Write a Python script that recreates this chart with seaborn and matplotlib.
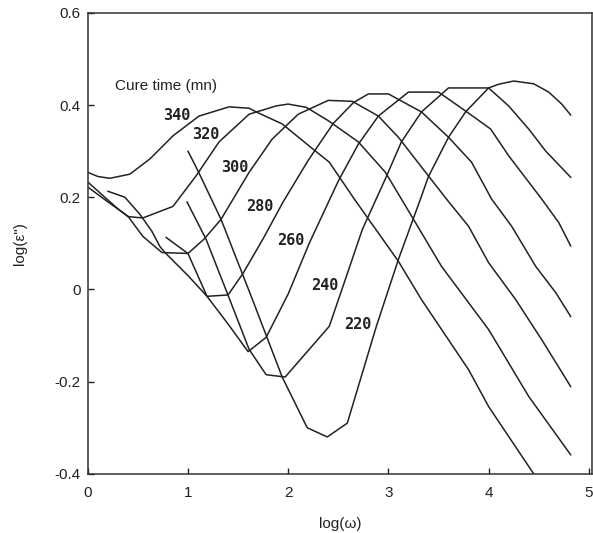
import pandas as pd
import matplotlib
matplotlib.use("Agg")
import matplotlib.pyplot as plt
import seaborn as sns

"""
Dielectric loss vs frequency for several cure times
values read off the scanned figure
"""

cure_times = ['340', '320', '300', '280', '260', '240', '220']

x_340 = [0, 0.1, 0.22, 0.42, 0.62, 0.85, 1.11, 1.41, 1.61, 1.68, 1.94, 2.21, 2.41, 2.66, 3.1, 3.33, 3.8, 4.0, 4.45]
y_340 = [0.254, 0.245, 0.241, 0.25, 0.283, 0.333, 0.376, 0.396, 0.393, 0.385, 0.359, 0.311, 0.276, 0.196, 0.061,
         -0.022, -0.174, -0.254, -0.40]

x_320 = [0, 0.17, 0.3, 0.4, 0.55, 0.85, 1.08, 1.31, 1.61, 1.88, 2.0, 2.18, 2.4, 2.7, 2.97, 3.13, 3.53, 4.0, 4.4, 4.82]
y_320 = [0.233, 0.20, 0.175, 0.158, 0.155, 0.18, 0.246, 0.32, 0.38, 0.398, 0.402, 0.395, 0.366, 0.32, 0.254, 0.196,
         0.05, -0.087, -0.232, -0.359]

x_300 = [0, 0.2, 0.4, 0.55, 0.74, 1.0, 1.16, 1.33, 1.61, 1.84, 2.1, 2.4, 2.64, 2.9, 3.1, 3.35, 3.58, 3.8, 4.0,
         4.27, 4.53, 4.82]
y_300 = [0.222, 0.19, 0.159, 0.115, 0.08, 0.078, 0.109, 0.152, 0.254, 0.326, 0.38, 0.41, 0.408, 0.376, 0.33, 0.26,
         0.196, 0.137, 0.058, -0.022, -0.109, -0.211]

x_280 = [0.2, 0.37, 0.52, 0.64, 0.72, 0.77, 1.0, 1.19, 1.4, 1.55, 1.75, 1.95, 2.2, 2.45, 2.65, 2.8, 3.0, 3.33, 3.6,
         3.83, 4.03, 4.23, 4.47, 4.67, 4.82]
y_280 = [0.213, 0.2, 0.163, 0.126, 0.093, 0.08, 0.03, -0.015, -0.012, 0.035, 0.11, 0.19, 0.28, 0.36, 0.405, 0.424,
         0.424, 0.385, 0.33, 0.276, 0.196, 0.137, 0.05, -0.007, -0.059]

x_260 = [0.78, 1.0, 1.19, 1.4, 1.6, 1.78, 2.0, 2.21, 2.5, 2.7, 2.9, 3.2, 3.5, 3.77, 4.02, 4.2, 4.53, 4.7, 4.82]
y_260 = [0.113, 0.078, -0.015, -0.075, -0.135, -0.104, -0.01, 0.1, 0.235, 0.315, 0.376, 0.428, 0.428, 0.387, 0.348,
         0.29, 0.196, 0.145, 0.094]

x_240 = [0.99, 1.18, 1.39, 1.61, 1.78, 1.97, 2.41, 2.56, 2.74, 2.97, 3.13, 3.33, 3.6, 4.0, 4.2, 4.4, 4.57, 4.82]
y_240 = [0.19, 0.109, -0.007, -0.13, -0.185, -0.19, -0.08, 0.015, 0.13, 0.24, 0.32, 0.385, 0.437, 0.437, 0.398,
         0.348, 0.30, 0.243]

x_220 = [1.0, 1.1, 1.33, 1.64, 1.94, 2.19, 2.39, 2.59, 2.88, 3.1, 3.32, 3.4, 3.6, 3.77, 4.0, 4.1, 4.25, 4.45, 4.6,
         4.73, 4.82]
y_220 = [0.30, 0.257, 0.152, -0.02, -0.19, -0.30, -0.32, -0.29, -0.08, 0.065, 0.196, 0.245, 0.33, 0.385, 0.437,
         0.445, 0.452, 0.446, 0.428, 0.402, 0.378]

# where each cure time label sits (left edge, vertical centre)
label_x = [0.75, 1.04, 1.33, 1.58, 1.89, 2.23, 2.56]
label_y = [0.378, 0.335, 0.265, 0.180, 0.107, 0.009, -0.076]

xticks = [0, 1, 2, 3, 4, 5]
yticks = [-0.4, -0.2, 0, 0.2, 0.4, 0.6]
yticklabels = ['-0.4', '-0.2', '0', '0.2', '0.4', '0.6']

xs = [x_340, x_320, x_300, x_280, x_260, x_240, x_220]
ys = [y_340, y_320, y_300, y_280, y_260, y_240, y_220]

frames = []
for t, xv, yv in zip(cure_times, xs, ys):
    frames.append(pd.DataFrame({'logw': xv, 'loge': yv, 'cure': t}))
df = pd.concat(frames, ignore_index=True)

sns.set_style('ticks')
plt.rcParams['font.family'] = ['Liberation Sans', 'DejaVu Sans']

fig = plt.figure(figsize=(5.93, 5.33), dpi=100)
ax = fig.add_axes([0.148, 0.111, 0.85, 0.865])

sns.lineplot(data=df, x='logw', y='loge', hue='cure', units='cure', estimator=None, sort=False,
             palette=['#222222'] * len(cure_times), linewidth=1.1, legend=False, ax=ax)

for t, lx, ly in zip(cure_times, label_x, label_y):
    ax.text(lx, ly, t, ha='left', va='center', fontsize=11, fontweight='bold',
            family='DejaVu Sans Mono', color='#222222')

ax.text(0.27, 0.441, 'Cure time (mn)', ha='left', va='center', fontsize=11, color='#222222')

ax.set_xlim(0, 5.03)
ax.set_ylim(-0.4, 0.6)
ax.set_xticks(xticks)
ax.set_xticklabels([str(v) for v in xticks])
ax.set_yticks(yticks)
ax.set_yticklabels(yticklabels)
ax.tick_params(direction='in', length=4, width=1, labelsize=11, colors='#222222')
ax.tick_params(axis='x', pad=9)
ax.tick_params(axis='y', pad=5)
for s in ax.spines.values():
    s.set_linewidth(1.1)
    s.set_color('#333333')

ax.set_xlabel('log(\u03c9)', fontsize=11, labelpad=12, color='#222222')
ax.set_ylabel('log(\u03b5")', fontsize=11, labelpad=20, color='#222222')

fig.savefig('out.png', dpi=100)
